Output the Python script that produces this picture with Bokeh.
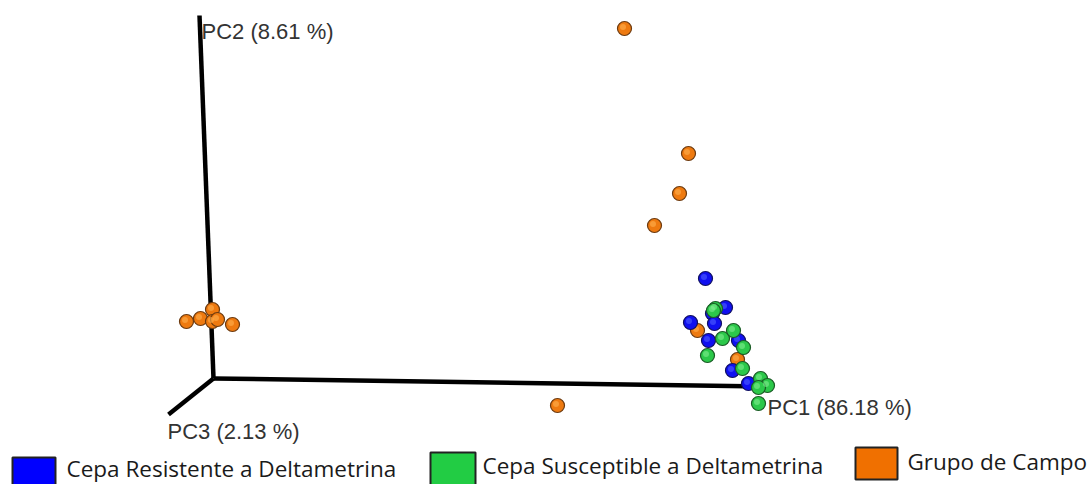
from bokeh.plotting import figure
from bokeh.models import Range1d
from bokeh.core.properties import value
from bokeh.embed import file_html
from bokeh.resources import INLINE

# Projected PCoA coordinates (screen-projected values)
campo_x = [624, 688, 679, 654, 557, 186, 200, 212, 212, 217, 232, 697, 737]
campo_y = [28, 153, 193, 225, 405, 321, 318, 309, 321, 319, 324, 330, 359]
res_x = [705, 725, 712, 714, 690, 708, 738, 732, 748]
res_y = [278, 307, 313, 323, 322, 340, 340, 370, 383]
sus_x = [715, 722, 733, 743, 707, 742, 760, 767, 758, 758, 713]
sus_y = [308, 338, 330, 347, 355, 368, 378, 385, 387, 403, 310]

# Axis endpoints (origin, PC1, PC2, PC3 tips)
axis_origin = (213, 378)
axis_tips = {"PC1": (766, 386), "PC2": (199, 15), "PC3": (168, 414)}
axis_labels = ["PC1 (86.18 %)", "PC2 (8.61 %)", "PC3 (2.13 %)"]
label_pos = [(767, 407), (201, 31), (167, 431)]

legend_labels = ["Cepa Resistente a Deltametrina", "Cepa Susceptible a Deltametrina", "Grupo de Campo"]
legend_colors = ["#0000FF", "#22CC44", "#F07000"]

p = figure(width=1088, height=484, output_backend="svg", toolbar_location=None,
           x_range=Range1d(0, 1088), y_range=Range1d(484, 0), min_border=0)
p.axis.visible = False
p.grid.visible = False
p.outline_line_color = None
p.background_fill_color = "white"

# axes
for k in ["PC1", "PC2", "PC3"]:
    tx, ty = axis_tips[k]
    p.line([axis_origin[0], tx], [axis_origin[1], ty], line_color="black", line_width=4.5)

for lab, (lx, ly) in zip(axis_labels, label_pos):
    p.text(x=[lx], y=[ly], text=[lab], text_font=value("Liberation Sans"),
           text_font_size="22px", text_color="#333333", text_baseline="middle", text_align="left")

def spheres(xs, ys, fill, edge, hi):
    p.scatter(xs, ys, size=14, fill_color=fill, line_color=edge, line_width=1.2)
    p.scatter([x - 1.5 for x in xs], [y - 1.5 for y in ys], size=6, fill_color=hi,
              line_color=None, fill_alpha=0.6)

spheres(campo_x, campo_y, "#EE7A10", "#6b3a10", "#FFB050")
spheres(res_x, res_y, "#1010F0", "#101060", "#5060FF")
spheres(sus_x, sus_y, "#2CC84A", "#1a5a25", "#80EE90")

# legend
sq = [(12, 457, 55, 490), (430, 452, 475, 490), (855, 447, 897, 479)]
txt = [(66, 468), (482, 465), (907, 461)]
for (x0, y0, x1, y1), (tx, ty), lab, col in zip(sq, txt, legend_labels, legend_colors):
    p.quad(left=[x0], right=[x1], top=[y0], bottom=[y1], fill_color=col,
           line_color="#222222", line_width=2)
    p.text(x=[tx], y=[ty], text=[lab], text_font=value("Open Sans"), text_font_size="22.5px",
           text_color="#1a1a1a", text_baseline="middle", text_align="left")

open("out.html", "w").write(file_html(p, INLINE))
